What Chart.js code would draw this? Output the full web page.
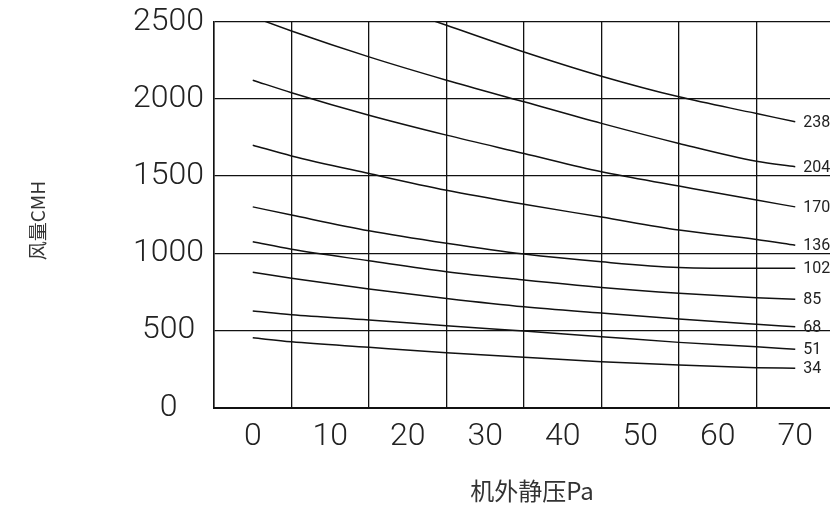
<!DOCTYPE html>
<html>
<head>
<meta charset="utf-8">
<script src="https://cdn.jsdelivr.net/npm/chart.js@4"></script>
<style>
html,body{margin:0;padding:0;overflow:hidden;background:#fff;}
#wrap{width:850px;height:508px;}
</style>
</head>
<body>
<div id="wrap"><canvas id="c" width="850" height="508"></canvas></div>
<script>
// x: external static pressure (Pa)
const pressure = [0, 5, 15, 25, 35, 45, 55, 65, 70];
const xTickValues = [0, 10, 20, 30, 40, 50, 60, 70];
const yTickValues = [0, 500, 1000, 1500, 2000, 2500];
// airflow CMH per curve
const curve238 = [2950, 2830, 2650, 2477, 2304, 2147, 2013, 1905, 1851];
const curve204 = [2532, 2440, 2272, 2121, 1981, 1841, 1711, 1595, 1560];
const curve170 = [2121, 2040, 1894, 1765, 1646, 1527, 1435, 1344, 1300];
const curve136 = [1700, 1630, 1516, 1408, 1317, 1234, 1150, 1089, 1052];
const curve102 = [1300, 1247, 1145, 1064, 994, 944, 908, 902, 902];
const curve85  = [1074, 1025, 951, 880, 826, 778, 740, 711, 701];
const curve68  = [876, 837, 768, 707, 653, 612, 573, 539, 523];
const curve51  = [625, 601, 567, 530, 495, 459, 422, 394, 377];
const curve34  = [452, 426, 390, 355, 325, 297, 275, 258, 254];
const curveNames = ['238', '204', '170', '136', '102', '85', '68', '51', '34'];
const curveValues = [curve238, curve204, curve170, curve136, curve102, curve85, curve68, curve51, curve34];
const yTitle = '风量CMH';
const xTitle = '机外静压Pa';

const datasets = curveNames.map((name, i) => ({
  label: name,
  data: pressure.map((p, j) => ({x: p, y: curveValues[i][j]})),
  borderColor: '#111',
  borderWidth: 1.5,
  pointRadius: 0,
  fill: false,
  cubicInterpolationMode: 'monotone'
}));

const curveLabelPlugin = {
  id: 'curveLabels',
  afterDatasetsDraw(chart) {
    const ctx = chart.ctx;
    ctx.save();
    ctx.font = '400 16px Roboto';
    ctx.fillStyle = '#222';
    ctx.textAlign = 'left';
    ctx.textBaseline = 'middle';
    chart.data.datasets.forEach((ds, i) => {
      const meta = chart.getDatasetMeta(i);
      const pt = meta.data[meta.data.length - 1];
      ctx.fillText(ds.label, pt.x + 8, pt.y + 1);
    });
    ctx.restore();
  }
};

const titlePlugin = {
  id: 'axisTitles',
  afterDraw(chart) {
    const ctx = chart.ctx;
    const area = chart.chartArea;
    ctx.save();
    ctx.fillStyle = '#333';
    ctx.textAlign = 'center';
    ctx.textBaseline = 'middle';
    ctx.font = '19px "Noto Sans CJK SC"';
    ctx.translate(37.5, (area.top + area.bottom) / 2 + 6);
    ctx.rotate(-Math.PI / 2);
    ctx.fillText(yTitle, 0, 0);
    ctx.restore();
    ctx.save();
    ctx.fillStyle = '#333';
    ctx.textAlign = 'center';
    ctx.textBaseline = 'middle';
    ctx.font = '24px "Noto Sans CJK SC"';
    ctx.fillText(xTitle, 532, 491);
    ctx.restore();
  }
};

const tickFont = { family: 'Roboto', size: 32, weight: '300' };

new Chart(document.getElementById('c'), {
  type: 'line',
  data: { datasets },
  plugins: [curveLabelPlugin, titlePlugin],
  options: {
    responsive: false,
    animation: false,
    devicePixelRatio: 1,
    layout: { padding: { top: 21.7, right: 16, left: 0, bottom: 0 } },
    plugins: { legend: { display: false }, tooltip: { enabled: false } },
    scales: {
      x: {
        type: 'linear',
        min: -5,
        max: 75,
        afterBuildTicks: (axis) => { axis.ticks = xTickValues.map(v => ({ value: v })); },
        afterFit: (scale) => { scale.height = 100.5; scale.paddingLeft = 0; scale.paddingRight = 0; },
        grid: { color: '#111', lineWidth: 1.3, offset: true, drawTicks: false },
        border: { color: '#111', width: 2 },
        ticks: {
          font: tickFont,
          color: '#222',
          padding: 10,
          maxRotation: 0,
          autoSkip: false,
          callback: (v) => String(v)
        }
      },
      y: {
        type: 'linear',
        min: 0,
        max: 2500,
        afterBuildTicks: (axis) => { axis.ticks = yTickValues.map(v => ({ value: v })); },
        afterFit: (scale) => { scale.width = 214; scale.paddingTop = 0; scale.paddingBottom = 0; },
        grid: { color: '#111', lineWidth: 1.3, drawTicks: false },
        border: { color: '#111', width: 1.5 },
        ticks: {
          font: tickFont,
          color: '#222',
          padding: 10,
          crossAlign: 'center',
          callback: (v) => String(v)
        }
      }
    }
  }
});
</script>
</body>
</html>
